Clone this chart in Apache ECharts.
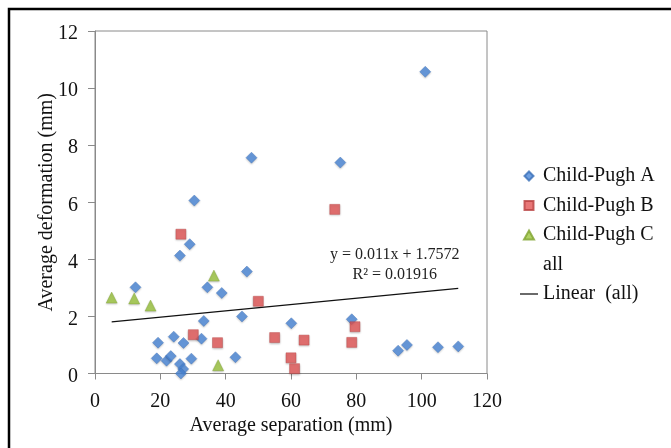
<!DOCTYPE html>
<html>
<head>
<meta charset="utf-8">
<script src="https://cdn.jsdelivr.net/npm/echarts@6/dist/echarts.min.js"></script>
<style>
html,body{margin:0;padding:0;background:#fff;}
#chart{width:671px;height:448px;}
</style>
</head>
<body>
<div id="chart"></div>
<script>
// Child-Pugh A (separation mm, deformation mm)
var groupAX = [101.1, 47.9, 75.1, 30.4, 29.0, 26.0, 46.5, 12.4, 34.4, 38.8, 45.0, 33.3, 60.1, 78.6, 24.1, 19.3, 27.1, 32.6, 18.9, 21.9, 23.2, 29.5, 26.0, 27.0, 26.3, 43.0, 92.8, 95.5, 105.0, 111.2];
var groupAY = [10.57, 7.56, 7.39, 6.06, 4.53, 4.13, 3.57, 3.02, 3.02, 2.82, 2.00, 1.84, 1.76, 1.90, 1.29, 1.08, 1.07, 1.22, 0.53, 0.45, 0.61, 0.52, 0.33, 0.16, 0.00, 0.57, 0.80, 1.00, 0.92, 0.95];
// Child-Pugh B
var groupBX = [26.3, 73.4, 50.0, 30.1, 37.5, 55.0, 64.0, 60.0, 61.1, 79.6, 78.6];
var groupBY = [4.88, 5.75, 2.53, 1.36, 1.08, 1.26, 1.17, 0.55, 0.17, 1.64, 1.09];
// Child-Pugh C
var groupCX = [5.1, 12.0, 17.0, 36.4, 37.7];
var groupCY = [2.66, 2.63, 2.38, 3.43, 0.29];
// Linear trend (all) endpoints
var trendX = [5.1, 111.2];
var trendY = [1.81, 2.98];
var xTicks = [0, 20, 40, 60, 80, 100, 120];
var yTicks = [0, 2, 4, 6, 8, 10, 12];
var seriesNames = ['Child-Pugh A', 'Child-Pugh B', 'Child-Pugh C', 'all', 'Linear  (all)'];
var equationText = 'y = 0.011x + 1.7572\nR\u00B2 = 0.01916';

function pairs(xs, ys) { return xs.map(function (x, i) { return [x, ys[i]]; }); }

var FONT = 'Liberation Serif';
var shadow = {shadowBlur: 2, shadowColor: 'rgba(0,0,0,0.25)', shadowOffsetY: 1};
function style(fill, border) {
  return Object.assign({color: fill, borderColor: border, borderWidth: 0.5}, shadow);
}
var chart = echarts.init(document.getElementById('chart'), null, {renderer: 'canvas'});
chart.setOption({
  backgroundColor: '#fff',
  animation: false,
  grid: {left: 95, top: 31, width: 392, height: 342.5, show: true, borderColor: '#8a8a8a', borderWidth: 1, backgroundColor: 'transparent'},
  xAxis: {
    type: 'value', min: xTicks[0], max: xTicks[xTicks.length - 1], interval: 20,
    name: 'Average separation (mm)', nameLocation: 'middle', nameGap: 42, nameMoveOverlap: false,
    nameTextStyle: {fontFamily: FONT, fontSize: 20, color: '#111'},
    axisLine: {show: true, lineStyle: {color: '#8a8a8a', width: 1}},
    axisTick: {show: true, inside: false, length: 6, lineStyle: {color: '#8a8a8a'}},
    axisLabel: {fontFamily: FONT, fontSize: 20, color: '#111', margin: 18},
    splitLine: {show: false}
  },
  yAxis: {
    type: 'value', min: yTicks[0], max: yTicks[yTicks.length - 1], interval: 2,
    name: 'Average deformation (mm)', nameLocation: 'middle', nameGap: 38, nameRotate: 90, nameMoveOverlap: false,
    nameTextStyle: {fontFamily: FONT, fontSize: 20, color: '#111'},
    axisLine: {show: true, lineStyle: {color: '#8a8a8a', width: 1}},
    axisTick: {show: true, inside: false, length: 7, lineStyle: {color: '#8a8a8a'}},
    axisLabel: {
      fontFamily: FONT, fontSize: 20, color: '#111', margin: 17,
      formatter: '{v|{value}}',
      rich: {v: {fontFamily: FONT, fontSize: 20, color: '#111', padding: [6, 0, 0, 0]}}
    },
    splitLine: {show: false}
  },
  legend: {
    orient: 'vertical', left: 515, top: 161,
    itemWidth: 18, itemHeight: 9, itemGap: 9.5, symbolKeepAspect: true,
    textStyle: {fontFamily: FONT, fontSize: 20, color: '#111', lineHeight: 20},
    data: [
      {name: seriesNames[0], icon: 'path://M5,0L10,5L5,10L0,5Z'},
      {name: seriesNames[1], icon: 'path://M0,0L10,0L10,10L0,10Z'},
      {name: seriesNames[2], icon: 'path://M5,0L10,9L0,9Z'},
      {name: seriesNames[3], icon: 'none'},
      {name: seriesNames[4], icon: 'path://M0,0L36,0L36,2.5L0,2.5Z'}
    ]
  },
  series: [
    {name: seriesNames[0], type: 'scatter', symbol: 'diamond', symbolSize: 11,
     itemStyle: style('#4a87d8', '#3a6fb8'), data: pairs(groupAX, groupAY)},
    {name: seriesNames[1], type: 'scatter', symbol: 'rect', symbolSize: 10,
     itemStyle: style('#e25555', '#b84040'), data: pairs(groupBX, groupBY)},
    {name: seriesNames[2], type: 'scatter', symbol: 'triangle', symbolSize: 11,
     itemStyle: style('#9cc53f', '#7ea22e'), data: pairs(groupCX, groupCY)},
    {name: seriesNames[3], type: 'scatter', symbol: 'none', data: []},
    {name: seriesNames[4], type: 'line', symbol: 'none', showSymbol: false,
     lineStyle: {color: '#111', width: 1.2}, itemStyle: {color: '#111'}, data: pairs(trendX, trendY), z: 1}
  ],
  graphic: [
    {type: 'rect', shape: {x: 9, y: 9, width: 700, height: 500}, style: {fill: 'none', stroke: '#000', lineWidth: 2.5}, silent: true},
    {type: 'text', left: 330, top: 245, style: {text: equationText, fontFamily: FONT, fontSize: 16, fill: '#222', lineHeight: 20, textAlign: 'center'}}
  ]
});
</script>
</body>
</html>
